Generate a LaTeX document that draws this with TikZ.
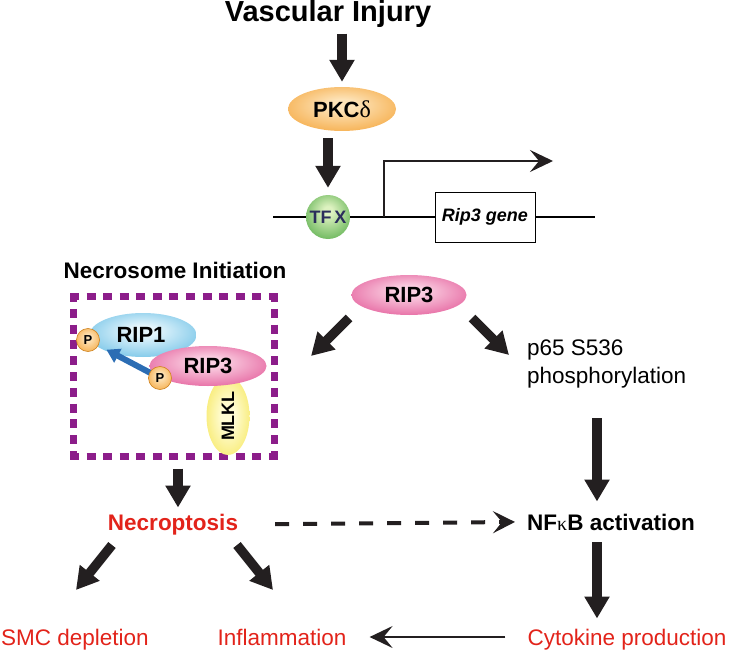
\documentclass[tikz,border=0pt]{standalone}
\usepackage{fontspec}
\setmainfont{Liberation Sans}
\newfontfamily\greekfont{Liberation Serif}
\usetikzlibrary{arrows.meta,shapes.geometric,calc}
\definecolor{arrowblack}{HTML}{231F20}
\definecolor{orL}{HTML}{FDE3B8}
\definecolor{orD}{HTML}{F39A24}
\definecolor{grL}{HTML}{DDF2C0}
\definecolor{grD}{HTML}{3FA035}
\definecolor{blL}{HTML}{E4F5FC}
\definecolor{blD}{HTML}{4FB3E0}
\definecolor{pkL}{HTML}{FAD0E2}
\definecolor{pkD}{HTML}{DE3F88}
\definecolor{ylL}{HTML}{FFFCD2}
\definecolor{ylD}{HTML}{F3E035}
\definecolor{purp}{HTML}{8C1D8A}
\definecolor{bluearr}{HTML}{2B6DB4}
\definecolor{redtxt}{HTML}{E2231A}
\definecolor{navytxt}{HTML}{2B2D5C}
\pgfdeclareradialshading{shOrange}{\pgfpoint{0bp}{6bp}}{color(0bp)=(orL); color(6bp)=(orL); color(40bp)=(orD); color(50bp)=(orD)}
\pgfdeclareradialshading{shGreen}{\pgfpoint{0bp}{8bp}}{color(0bp)=(grL); color(5bp)=(grL); color(40bp)=(grD); color(50bp)=(grD)}
\pgfdeclareradialshading{shBlue}{\pgfpoint{0bp}{6bp}}{color(0bp)=(blL); color(6bp)=(blL); color(40bp)=(blD); color(50bp)=(blD)}
\pgfdeclareradialshading{shPink}{\pgfpoint{0bp}{6bp}}{color(0bp)=(pkL); color(6bp)=(pkL); color(40bp)=(pkD); color(50bp)=(pkD)}
\pgfdeclareradialshading{shYellow}{\pgfpoint{0bp}{0bp}}{color(0bp)=(ylL); color(8bp)=(ylL); color(42bp)=(ylD); color(50bp)=(ylD)}
\tikzset{
  prot/.style={ellipse, inner sep=0pt, font=\bfseries\fontsize{22}{24}\selectfont},
  phos/.style={circle, inner sep=0pt, minimum size=23pt, shading=shOrange, draw=orD!85!black, line width=0.6pt, font=\bfseries\fontsize{13}{14}\selectfont},
  bigarrow/.style={line width=9.5pt, draw=arrowblack, -{Triangle[length=22pt,width=24pt]}},
  dasharrow/.style={line width=4pt, draw=arrowblack, dash pattern=on 14pt off 14pt, -{Stealth[length=22pt,width=22pt,inset=9pt]}},
  thinarrow/.style={line width=1.6pt, draw=arrowblack, -{Stealth[length=23pt,width=22pt,inset=9pt]}},
  promoterarrow/.style={line width=2pt, draw=arrowblack, -{Stealth[length=23pt,width=22pt,inset=9pt]}},
  bluearrow/.style={line width=6pt, draw=bluearr, -{Triangle[length=13pt,width=15pt]}},
  lbl/.style={font=\fontsize{22.5}{28}\selectfont, inner sep=0pt},
  blbl/.style={font=\bfseries\fontsize{22.5}{28}\selectfont, inner sep=0pt},
  boxdash/.style={draw=purp, line width=7.5pt},
}
\begin{document}
\begin{tikzpicture}[x=1pt,y=-1pt]
\useasboundingbox (0,0) rectangle (730,655);
% top
\node[inner sep=0pt, font=\bfseries\fontsize{29}{32}\selectfont] (vi) at (328,14) {Vascular Injury};
\node[prot, minimum width=108pt, minimum height=44pt, shading=shOrange] (pkc) at (342,109) {PKC{\greekfont\mdseries\fontsize{24}{24}\selectfont δ}};
\node[circle, inner sep=0pt, minimum size=44pt, shading=shGreen, font=\bfseries\fontsize{18}{20}\selectfont, text=navytxt] (tfx) at (328,217) {TF\,X};
\node[draw, line width=1pt, fill=white, minimum width=100pt, minimum height=50pt, inner sep=0pt, font=\bfseries\itshape\fontsize{18}{20}\selectfont] (gene) at (485,217) {Rip3 gene};
\coordinate (g1) at (273,217);
\coordinate (g2) at (595,217);
\coordinate (pr) at (384,217);
\coordinate (pe) at (553,161);
\draw[line width=1.6pt] (g1) -- (tfx.west);
\draw[line width=1.6pt] (tfx.east) -- (gene.west);
\draw[line width=1.6pt] (gene.east) -- (g2);
\draw[promoterarrow] (pr) |- (pe);
\draw[bigarrow] ([yshift=-6pt]vi.south -| pkc.north) -- ([yshift=5pt]pkc.north);
\draw[bigarrow] ([yshift=-7pt]pkc.south -| tfx.north) -- ([yshift=7pt]tfx.north);
% necrosome
\node[blbl] (ni) at (175,270) {Necrosome Initiation};
\node[inner sep=0pt, outer sep=0pt, minimum width=201pt, minimum height=160pt] (nbox) at (174,376.5) {};
\draw[boxdash, dash pattern=on 9pt off 7.58pt, shorten <=-3.5pt, shorten >=-3.5pt] (nbox.north west) -- (nbox.north east);
\draw[boxdash, dash pattern=on 9pt off 7.58pt, shorten <=-3.5pt, shorten >=-3.5pt] (nbox.south west) -- (nbox.south east);
\draw[boxdash, dash pattern=on 9pt off 6.8pt, shorten <=-3.5pt, shorten >=-3.5pt] (nbox.north west) -- (nbox.south west);
\draw[boxdash, dash pattern=on 9pt off 6.8pt, shorten <=-3.5pt, shorten >=-3.5pt] (nbox.north east) -- (nbox.south east);
\node[prot, minimum width=107pt, minimum height=44pt, shading=shBlue] (rip1) at (143,335) {\hspace*{-4pt}RIP1};
\node[ellipse, inner sep=0pt, minimum width=43pt, minimum height=78pt, shading=shYellow] (mlkl) at (228,416) {};
\node[rotate=90, font=\bfseries\fontsize{18}{20}\selectfont] at (mlkl) {MLKL};
\node[prot, minimum width=117pt, minimum height=40pt, shading=shPink] (rip3a) at (208,366) {RIP3};
\node[phos] (p1) at (88,340) {P};
\draw[bluearrow, shorten >=9pt] (160,378) -- (p1);
\node[phos] (p2) at (160,378) {P};
% right branch
\node[prot, minimum width=115pt, minimum height=40pt, shading=shPink] (rip3b) at (409,295) {RIP3};
\coordinate (la1) at ($(rip3b)+(-60,23)$);
\coordinate (la2) at ($(rip3b)+(-98,61)$);
\coordinate (ra1) at ($(rip3b)+(63,23)$);
\coordinate (ra2) at ($(rip3b)+(100,60)$);
\draw[bigarrow] (la1) -- (la2);
\draw[bigarrow] (ra1) -- (ra2);
\node[lbl, anchor=west, align=left] (p65) at (527,364) {p65 S536\\phosphorylation};
\node[blbl, text=redtxt, anchor=base] (nec) at (173,530) {Necroptosis};
\node[blbl, anchor=base west] (nfkb) at (527,530) {NF{\greekfont\mdseries\fontsize{20}{22}\selectfont κ}B activation};
\draw[bigarrow] ([yshift=-12pt]nbox.south -| 178,0) -- ([yshift=6pt]nec.north -| 178,0);
\draw[bigarrow] ([yshift=-30pt]p65.south -| 597,0) -- ([yshift=12pt]nfkb.north -| 597,0);
\draw[dasharrow] ([xshift=37pt]nec.east) -- ([xshift=-12pt]nfkb.west);
% bottom
\node[lbl, text=redtxt, anchor=base] (smc) at (75,645) {SMC depletion};
\node[lbl, text=redtxt, anchor=base] (infl) at (282,645) {Inflammation};
\node[lbl, text=redtxt, anchor=base] (cyto) at (627,645) {Cytokine production};
\coordinate (na1) at (112,545);
\coordinate (na2) at (76,590);
\coordinate (nb1) at (237,545);
\coordinate (nb2) at (273,590);
\draw[bigarrow] (na1) -- (na2);
\draw[bigarrow] (nb1) -- (nb2);
\draw[bigarrow] ([yshift=-12pt]nfkb.south -| 597,0) -- ([yshift=10pt]cyto.north -| 597,0);
\draw[thinarrow] ([xshift=-22pt]cyto.west |- 0,637) -- ([xshift=23pt]infl.east |- 0,637);
\end{tikzpicture}
\end{document}
